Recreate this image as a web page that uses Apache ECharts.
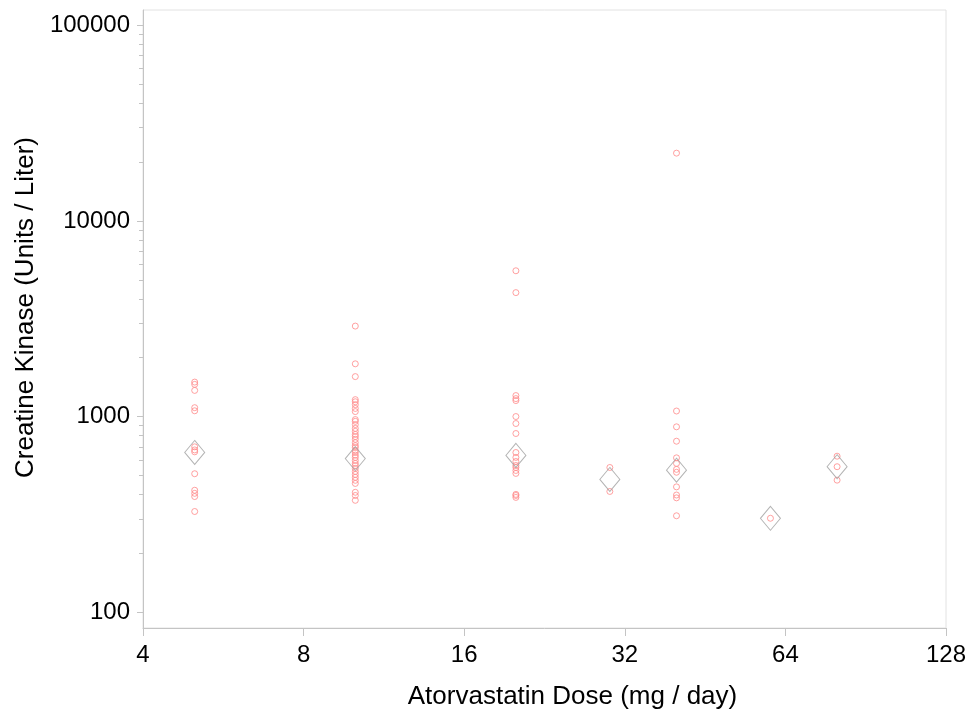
<!DOCTYPE html>
<html>
<head>
    <meta charset="utf-8">
    <title>Creatine Kinase vs Atorvastatin Dose</title>
    <script src="https://cdn.jsdelivr.net/npm/echarts/dist/echarts.min.js"></script>
    <style>
        html, body { margin: 0; padding: 0; background: #fff; }
    </style>
</head>
<body>
    <div id="main" style="width: 973px;height:721px;"></div>
    <script>
        // doses (mg / day) and CK values
        var doses = [5, 10, 20, 30, 40, 60, 80];
        var ck5 = [1500, 1460, 1360, 1110, 1070, 700, 675, 660, 510, 420, 405, 390, 327];
        var ck10 = [2900, 1860, 1600, 1220, 1190, 1150, 1100, 1060, 965, 945, 910, 870, 840, 810, 790,
                    765, 735, 710, 695, 670, 655, 635, 618, 596, 576, 562, 543, 524, 506, 489, 472, 455,
                    410, 395, 373];
        var ck20 = [5560, 4300, 1280, 1235, 1207, 1000, 921, 819, 655, 618, 589, 562, 549, 530, 512, 400, 395, 386];
        var ck30 = [549, 414];
        var ck40 = [22200, 1067, 886, 748, 615, 576, 537, 519, 437, 397, 384, 311];
        var ck60 = [302];
        var ck80 = [627, 554, 473];
        var ckMeans = [655, 610, 633, 477, 532, 302, 554];

        var xTicks = [4, 8, 16, 32, 64, 128];
        var yTicks = [100, 1000, 10000, 100000];
        var yMinorTicks = [];
        [100, 1000, 10000].forEach(function (d) {
            for (var k = 2; k <= 9; k++) yMinorTicks.push(d * k);
        });

        var groups = [ck5, ck10, ck20, ck30, ck40, ck60, ck80];
        var points = [];
        groups.forEach(function (g, i) {
            g.forEach(function (v) { points.push([doses[i], v]); });
        });
        var means = doses.map(function (d, i) { return [d, ckMeans[i]]; });

        var FONT = '"Liberation Sans", Arial, sans-serif';
        var lineColor = '#c4c4c4';

        var myChart = echarts.init(document.getElementById('main'));
        var option = {
            animation: false,
            backgroundColor: '#fff',
            grid: {
                left: 143, right: 27, top: 10, bottom: 93,
                show: true, borderColor: '#e2e2e2', borderWidth: 1
            },
            xAxis: {
                type: 'log', logBase: 2, min: 4, max: 128,
                name: 'Atorvastatin Dose (mg / day)',
                nameLocation: 'middle', nameGap: 56,
                nameTextStyle: { fontFamily: FONT, fontSize: 26, color: '#000', padding: [0, 0, 0, 56] },
                axisLine: { show: true, lineStyle: { color: lineColor } },
                axisTick: { show: true, length: 8, customValues: xTicks, lineStyle: { color: lineColor } },
                axisLabel: { customValues: xTicks, margin: 15, fontFamily: FONT, fontSize: 24, color: '#000' },
                splitLine: { show: false }
            },
            yAxis: [{
                type: 'log', logBase: 10, min: 83, max: 119700,
                name: 'Creatine Kinase (Units / Liter)',
                nameLocation: 'middle', nameGap: 104,
                nameTextStyle: { fontFamily: FONT, fontSize: 26, color: '#000', padding: [0, 0, 0, 23] },
                axisLine: { show: true, lineStyle: { color: lineColor } },
                axisTick: { show: true, length: 6, customValues: yTicks, lineStyle: { color: lineColor } },
                axisLabel: {
                    customValues: yTicks, margin: 13, fontFamily: FONT, fontSize: 24, color: '#000',
                    formatter: function (v) { return String(Math.round(v)); }
                },
                splitLine: { show: false }
            }, {
                type: 'log', logBase: 10, min: 83, max: 119700, position: 'left',
                axisLine: { show: false },
                axisTick: { show: true, length: 4, customValues: yMinorTicks, lineStyle: { color: lineColor } },
                axisLabel: { show: false },
                splitLine: { show: false }
            }],
            series: [{
                type: 'scatter',
                data: points,
                symbol: 'circle',
                symbolSize: 6,
                itemStyle: { color: 'transparent', borderColor: '#ff8a8a', borderWidth: 1 },
                z: 2
            }, {
                type: 'scatter',
                data: means,
                symbol: 'diamond',
                symbolSize: [20, 24],
                itemStyle: { color: 'transparent', borderColor: '#a0a0a0', borderWidth: 1 },
                z: 3
            }]
        };
        myChart.setOption(option);
    </script>
</body>
</html>
